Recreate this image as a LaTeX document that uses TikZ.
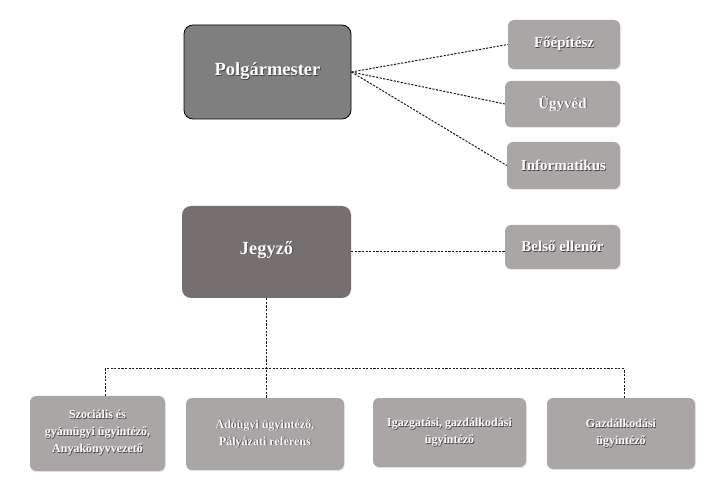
\documentclass[tikz,border=0pt]{standalone}
\usepackage{fontspec}
\setmainfont{Liberation Serif}
\usepackage{tikz}
\usetikzlibrary{positioning,calc,shadows}
\usepackage{xcolor}
\definecolor{mayorgray}{HTML}{7F7F7F}
\definecolor{notarygray}{HTML}{756F6F}
\definecolor{staffgray}{HTML}{AAA6A5}
\newcommand{\shtxt}[1]{\leavevmode\rlap{\kern0.8pt\raisebox{-0.8pt}{\color{black!75}#1}}#1}

\begin{document}
\begin{tikzpicture}[
  x=1pt, y=-1pt,
  head/.style={rounded corners=9pt, text=white, align=center, inner sep=4pt, font=\bfseries\fontsize{18.5}{22}\selectfont},
  staff/.style={fill=staffgray, rounded corners=6pt, text=white, align=center, inner sep=3pt, font=\bfseries\fontsize{15}{18}\selectfont, drop shadow={opacity=0.18, shadow xshift=0.8pt, shadow yshift=-1pt}},
  desk/.style={staff, font=\bfseries\fontsize{12}{17}\selectfont},
  dots/.style={dash pattern=on 2.2pt off 1.4pt, line width=1pt, draw=black!90}
]
\useasboundingbox (0,0) rectangle (713,497);
% leaders
\node[head, draw=black, line width=0.8pt, fill=mayorgray, minimum width=167pt, minimum height=94pt] (polg) at (267.5,72) {\raisebox{6pt}{\shtxt{Polgármester}}};
\node[head, fill=notarygray, minimum width=169pt, minimum height=92pt] (jegyzo) at (266.5,252) {\raisebox{9pt}{\shtxt{Jegyző}}};
% staff next to the mayor
\node[staff, minimum width=112pt, minimum height=49pt] (foep) at (564,44.5) {\shtxt{Főépítész}};
\node[staff, minimum width=115pt, minimum height=46pt] (ugyved) at (562.5,104) {\shtxt{Ügyvéd}};
\node[staff, minimum width=113pt, minimum height=47pt] (info) at (563.5,165.5) {\shtxt{Informatikus}};
\node[staff, minimum width=115pt, minimum height=44pt] (belso) at (562.5,247) {\shtxt{Belső ellenőr}};
% office desks
\node[desk, minimum width=135pt, minimum height=75pt] (szoc) at (97.5,433.5) {\shtxt{Szociális és}\\\shtxt{gyámügyi ügyintéző,}\\\shtxt{Anyakönyvvezető}};
\node[desk, minimum width=158pt, minimum height=72pt] (ado) at (265,434) {\shtxt{Adóügyi ügyintéző,}\\\shtxt{Pályázati referens}};
\node[desk, minimum width=153pt, minimum height=69pt] (igaz) at (449.5,432.5) {\shtxt{Igazgatási, gazdálkodási}\\\shtxt{ügyintéző}};
\node[desk, minimum width=148pt, minimum height=71pt] (gazd) at (621,433.5) {\shtxt{Gazdálkodási}\\\shtxt{ügyintéző}};
\coordinate (bus) at (0,369);

\draw[dots] (polg.east) -- (foep.west);
\draw[dots] (polg.east) -- (ugyved.west);
\draw[dots] (polg.east) -- (info.west);
\draw[dots] (jegyzo.east) -- (jegyzo.east -| belso.west);
\draw[dots] (jegyzo.south) -- (jegyzo.south |- ado.north);
\draw[dots] ($(szoc.north)+(7.5,0)$) -- ($(szoc.north |- bus)+(7.5,0)$) -- ($(gazd.north |- bus)+(3,0)$) -- ($(gazd.north)+(3,0)$);
\end{tikzpicture}
\end{document}
